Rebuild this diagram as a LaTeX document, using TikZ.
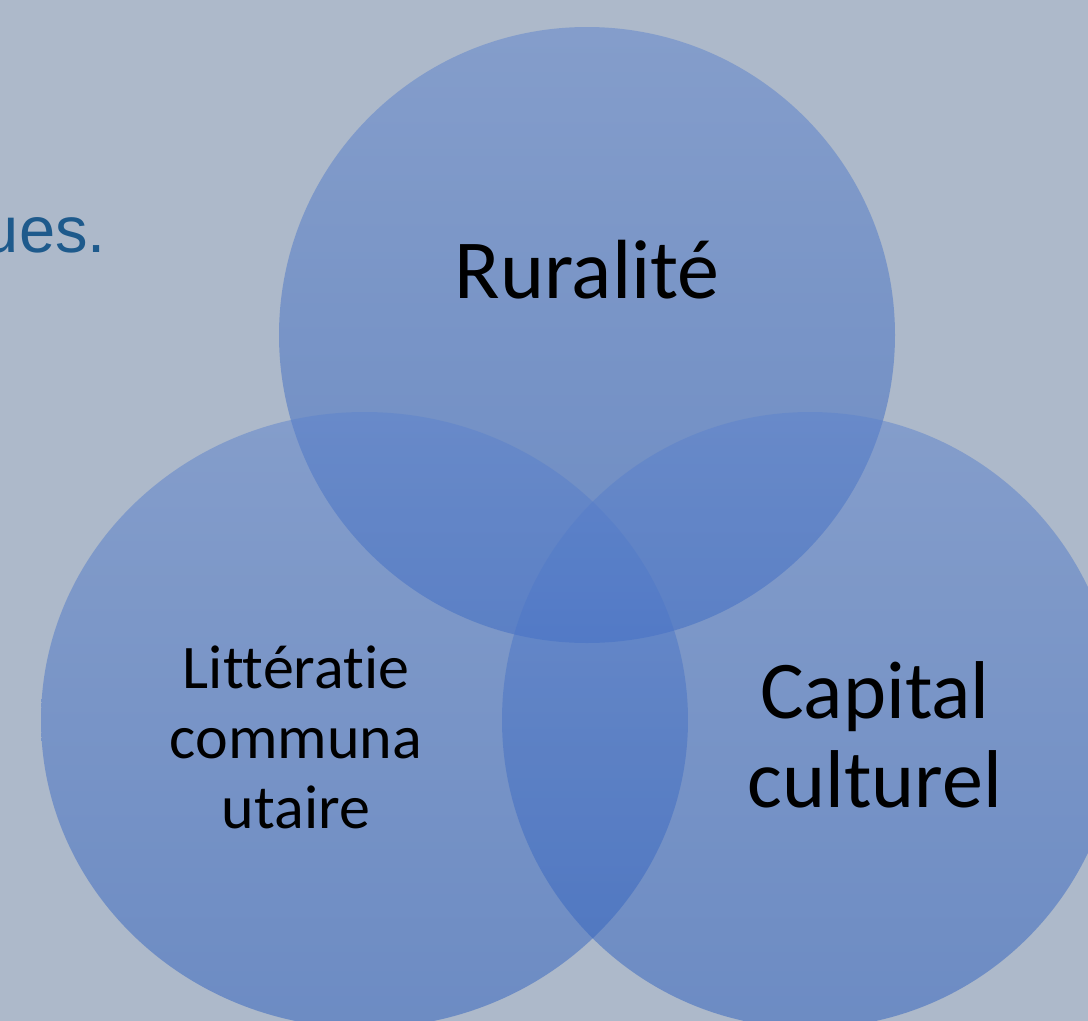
\documentclass[tikz,border=0pt]{standalone}
\usepackage{fontspec}
\setmainfont{Carlito}[Ligatures=CommonOff]
\newfontfamily\arialfont{Liberation Sans}
\definecolor{bgslate}{RGB}{173,185,202}
\definecolor{venntop}{RGB}{93,131,204}
\definecolor{vennbot}{RGB}{45,95,190}
\definecolor{textblue}{RGB}{30,90,140}
\begin{document}
\begin{tikzpicture}[x=1pt,y=-1pt,
        venn/.style={top color=venntop,bottom color=vennbot,fill opacity=0.5},
        venntext/.style={align=center,inner sep=0pt,text=black,anchor=base}]
        \useasboundingbox (0,0) rectangle (1088,1021);
        \fill[bgslate] (0,0) rectangle (1088,1021);
        \clip (0,0) rectangle (1088,1021);
        \draw (106,252) node[anchor=base east,inner sep=0pt,text=textblue,font=\arialfont\fontsize{65}{78}\selectfont] (tail) {ues.};
        \path[venn] (587,335) circle (308);
        \path[venn] (364.5,720) ellipse (323.5 and 308);
        \path[venn] (810,720) circle (308);
        \node[venntext,font=\fontsize{84}{100}\selectfont] (rural) at (587,298) {Ruralité};
        \node[venntext,font=\fontsize{62}{70}\selectfont] (litt) at (296,828) {Littératie\\communa\\utaire};
        \node[venntext,font=\fontsize{82}{89}\selectfont] (capital) at (875,807) {Capital\\culturel};
\end{tikzpicture}
\end{document}
